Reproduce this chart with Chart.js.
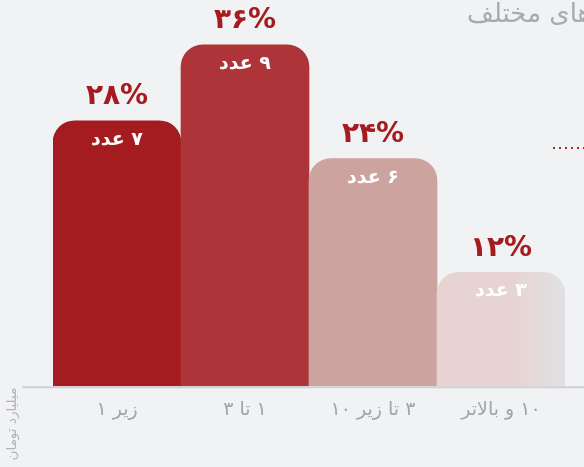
<!DOCTYPE html>
<html><head><meta charset="utf-8">
<script src="https://cdn.jsdelivr.net/npm/chart.js@4/dist/chart.umd.min.js"></script>
<style>html,body{margin:0;padding:0;background:#f1f2f4;}canvas{display:block;}</style>
</head><body>
<canvas id="c" width="584" height="467" dir="rtl"></canvas>
<script>
const categories = ["زیر ۱", "۱ تا ۳", "۳ تا زیر ۱۰", "۱۰ و بالاتر"];
const shares = [28, 36, 24, 12];
const shareLabels = ["۲۸%", "۳۶%", "۲۴%", "۱۲%"];
const countLabels = ["۷ عدد", "۹ عدد", "۶ عدد", "۳ عدد"];
const yTitle = "میلیارد تومان";
const titleText = "تعداد واحدها در بازه‌های مختلف";

const FONT = "'DejaVu Sans', sans-serif";
const solidColors = ["#a51c20", "#ad3438", "#cca39f", null];

function barColor(ctx) {
  const i = ctx.dataIndex;
  if (solidColors[i]) return solidColors[i];
  const chart = ctx.chart;
  const xs = chart.scales.x;
  if (!xs || !chart.chartArea) return "#e6d0ce";
  const cx = xs.getPixelForValue(i);
  const half = (xs.getPixelForValue(1) - xs.getPixelForValue(0)) / 2;
  const g = chart.ctx.createLinearGradient(cx - half, 0, cx + half, 0);
  g.addColorStop(0, "#e8d3d1");
  g.addColorStop(0.55, "#e7d3d1");
  g.addColorStop(1, "#e0e1e3");
  return g;
}

const decor = {
  id: "decor",
  afterDatasetsDraw(chart) {
    const c = chart.ctx;
    const meta = chart.getDatasetMeta(0);
    const area = chart.chartArea;
    c.save();
    c.direction = "rtl";
    // axis line
    c.strokeStyle = "#d0d1d4";
    c.lineWidth = 2;
    c.beginPath();
    c.moveTo(22, area.bottom + 1);
    c.lineTo(584, area.bottom + 1);
    c.stroke();
    meta.data.forEach((bar, i) => {
      c.textAlign = "center";
      c.textBaseline = "middle";
      c.fillStyle = "#a51c20";
      c.font = "bold 28px " + FONT;
      c.fillText(shareLabels[i], bar.x, bar.y - 24);
      c.fillStyle = "#ffffff";
      c.font = "bold 19px " + FONT;
      c.fillText(countLabels[i], bar.x, bar.y + 19);
    });
    // y title rotated
    c.save();
    c.translate(12, 424);
    c.rotate(-Math.PI / 2);
    c.fillStyle = "#b3b4b7";
    c.font = "13.5px " + FONT;
    c.textAlign = "center";
    c.textBaseline = "middle";
    c.fillText(yTitle, 0, 0);
    c.restore();
    // partial title
    c.fillStyle = "#a9aaad";
    c.font = "26px " + FONT;
    c.textAlign = "left";
    c.textBaseline = "middle";
    c.fillText(titleText, 467, 15);
    // dotted line
    c.fillStyle = "#b0252a";
    for (let x = 553; x < 584; x += 6) {
      c.fillRect(x, 147, 2, 2);
    }
    c.restore();
  }
};

new Chart(document.getElementById("c"), {
  type: "bar",
  data: {
    labels: categories,
    datasets: [{
      data: shares,
      backgroundColor: barColor,
      borderRadius: { topLeft: 22, topRight: 22, bottomLeft: 0, bottomRight: 0 },
      borderSkipped: "bottom",
      categoryPercentage: 1,
      barPercentage: 1
    }]
  },
  options: {
    responsive: false,
    animation: false,
    layout: { padding: { left: 53, right: 19, top: 7, bottom: 34 } },
    plugins: { legend: { display: false }, tooltip: { enabled: false } },
    scales: {
      x: {
        grid: { display: false, drawTicks: false },
        border: { display: false },
        ticks: { color: "#a3a4a7", font: { family: FONT, size: 19 }, padding: 12 }
      },
      y: { display: false, min: 0, max: 40 }
    }
  },
  plugins: [decor]
});
</script>
</body></html>
